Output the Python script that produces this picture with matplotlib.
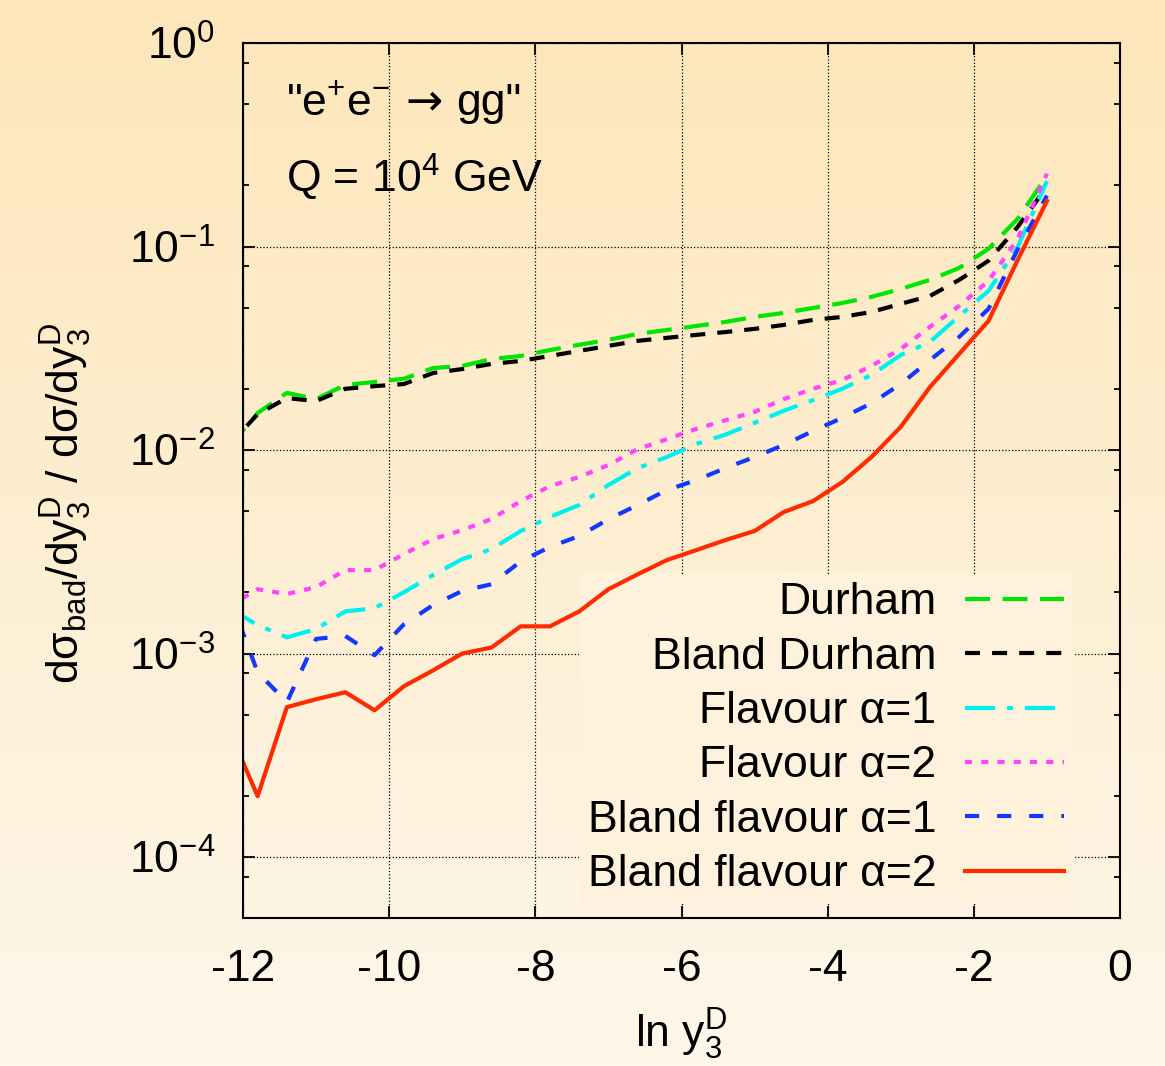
import numpy as np
import matplotlib.pyplot as plt
from matplotlib.ticker import LogLocator, NullFormatter, FixedLocator

plt.rcParams['font.family'] = ['Liberation Sans', 'DejaVu Sans']
plt.rcParams['mathtext.fontset'] = 'custom'
plt.rcParams['mathtext.rm'] = 'Liberation Sans'
plt.rcParams['mathtext.it'] = 'Liberation Sans:italic'
plt.rcParams['mathtext.bf'] = 'Liberation Sans:bold'
plt.rcParams['axes.unicode_minus'] = False

# bin centres in ln y3 (first one lies just outside the axis and gets clipped)
ln_y3 = [-12.2, -11.8, -11.4, -11.0, -10.6, -10.2, -9.8, -9.4, -9.0, -8.6,
         -8.2, -7.8, -7.4, -7.0, -6.6, -6.2, -5.8, -5.4, -5.0, -4.6,
         -4.2, -3.8, -3.4, -3.0, -2.6, -2.2, -1.8, -1.4, -1.0]

durham = [1.03e-2, 1.52e-2, 1.91e-2, 1.78e-2, 2.09e-2, 2.16e-2, 2.24e-2, 2.53e-2, 2.59e-2, 2.80e-2,
          2.90e-2, 3.10e-2, 3.29e-2, 3.48e-2, 3.72e-2, 3.89e-2, 4.07e-2, 4.26e-2, 4.51e-2, 4.72e-2,
          4.99e-2, 5.28e-2, 5.66e-2, 6.19e-2, 6.86e-2, 7.85e-2, 9.75e-2, 0.137, 0.222]

bland_durham = [1.05e-2, 1.50e-2, 1.80e-2, 1.74e-2, 2.00e-2, 2.06e-2, 2.11e-2, 2.39e-2, 2.50e-2, 2.65e-2,
                2.74e-2, 2.90e-2, 3.07e-2, 3.25e-2, 3.44e-2, 3.56e-2, 3.68e-2, 3.80e-2, 3.94e-2, 4.12e-2,
                4.36e-2, 4.51e-2, 4.77e-2, 5.23e-2, 5.72e-2, 6.86e-2, 8.51e-2, 0.125, 0.197]

flav_a1 = [1.67e-3, 1.38e-3, 1.20e-3, 1.32e-3, 1.61e-3, 1.67e-3, 2.00e-3, 2.43e-3, 2.91e-3, 3.26e-3,
           4.00e-3, 4.69e-3, 5.37e-3, 6.73e-3, 8.15e-3, 9.24e-3, 1.07e-2, 1.19e-2, 1.36e-2, 1.56e-2,
           1.76e-2, 2.00e-2, 2.34e-2, 2.93e-2, 3.40e-2, 4.56e-2, 6.05e-2, 9.95e-2, 0.210]

flav_a2 = [1.70e-3, 2.07e-3, 1.96e-3, 2.12e-3, 2.57e-3, 2.57e-3, 3.08e-3, 3.65e-3, 4.04e-3, 4.58e-3,
           5.61e-3, 6.65e-3, 7.37e-3, 8.44e-3, 1.01e-2, 1.13e-2, 1.27e-2, 1.40e-2, 1.54e-2, 1.78e-2,
           2.00e-2, 2.21e-2, 2.59e-2, 3.14e-2, 4.03e-2, 5.11e-2, 6.78e-2, 0.109, 0.228]

bland_flav_a1 = [1.96e-3, 8.09e-4, 5.76e-4, 1.18e-3, 1.22e-3, 9.81e-4, 1.39e-3, 1.73e-3, 2.03e-3, 2.19e-3,
                 2.84e-3, 3.34e-3, 3.78e-3, 4.57e-3, 5.37e-3, 6.36e-3, 7.11e-3, 8.15e-3, 9.24e-3, 1.06e-2,
                 1.24e-2, 1.44e-2, 1.70e-2, 2.11e-2, 2.77e-2, 3.60e-2, 4.94e-2, 9.70e-2, 0.178]

bland_flav_a2 = [4.29e-4, 1.99e-4, 5.45e-4, 5.96e-4, 6.45e-4, 5.26e-4, 6.90e-4, 8.26e-4, 1.00e-3, 1.07e-3,
                 1.36e-3, 1.36e-3, 1.61e-3, 2.07e-3, 2.45e-3, 2.88e-3, 3.22e-3, 3.61e-3, 4.00e-3, 4.96e-3,
                 5.61e-3, 6.96e-3, 9.24e-3, 1.30e-2, 2.04e-2, 2.97e-2, 4.31e-2, 8.60e-2, 0.1675]

x_ticks = [-12, -10, -8, -6, -4, -2, 0]

fs = 32

fig = plt.figure(figsize=(11.65, 10.66), dpi=100)

# peach background gradient behind everything
bg = fig.add_axes([0, 0, 1, 1], zorder=-10)
top = np.array([253, 230, 186]) / 255
bot = np.array([254, 247, 234]) / 255
t = np.linspace(0, 1, 256)[:, None, None]
bg.imshow(top + (bot - top) * t, aspect='auto', extent=[0, 1, 0, 1], origin='upper')
bg.axis('off')

ax = fig.add_axes([0.2086, 0.1388, 0.7528, 0.8208])
ax.set_facecolor('none')
ax.set_axisbelow(True)

lw = 3
ax.plot(ln_y3, durham, color='#00e600', lw=lw, dashes=(6, 3), label='Durham')
ax.plot(ln_y3, bland_durham, color='black', lw=lw, dashes=(3.6, 2.9), label='Bland Durham')
ax.plot(ln_y3, flav_a1, color='#00f0f0', lw=lw, dashes=(7.2, 2.9, 1.4, 2.9), label='Flavour α=1')
ax.plot(ln_y3, flav_a2, color='#ff44ff', lw=lw, dashes=(1.7, 2.2), label='Flavour α=2')
ax.plot(ln_y3, bland_flav_a1, color='#1038ff', lw=lw, dashes=(3.4, 4.3), label='Bland flavour α=1')
ax.plot(ln_y3, bland_flav_a2, color='#ff2a00', lw=lw, label='Bland flavour α=2')

ax.set_yscale('log')
ax.set_xlim(-12, 0)
ax.set_ylim(10 ** -4.3, 1)
ax.xaxis.set_major_locator(FixedLocator(x_ticks))
ax.yaxis.set_major_locator(LogLocator(base=10, numticks=10))
ax.yaxis.set_minor_locator(LogLocator(base=10, subs=(2, 5, 8), numticks=10))
ax.yaxis.set_minor_formatter(NullFormatter())

ax.tick_params(which='both', direction='in', top=True, right=True, width=1.3, labelsize=fs)
ax.tick_params(which='major', length=8.5)
ax.tick_params(which='minor', length=4.5)
ax.tick_params(axis='x', pad=22)
ax.tick_params(axis='y', pad=20)
for s in ax.spines.values():
    s.set_linewidth(1.5)
    s.set_zorder(3)

ax.grid(True, which='major', linestyle=':', color='black', linewidth=0.9)

ax.set_xlabel('ln y$_3^{\\mathrm{D}}$', fontsize=fs)
ax.xaxis.set_label_coords(0.5, -0.102)
ax.set_ylabel('dσ$_{\\mathrm{bad}}$/dy$_3^{\\mathrm{D}}$ / dσ/dy$_3^{\\mathrm{D}}$', fontsize=fs)
ax.yaxis.set_label_coords(-0.17, 0.474)

# process label in pieces so the arrow can come from DejaVu (longer glyph)
t1 = ax.text(0.049, 0.918, '"e$^{+}$e$^{-}$', transform=ax.transAxes, fontsize=fs, va='baseline')
t2 = ax.annotate('→', xy=(1, 0), xycoords=t1, xytext=(11, 0), textcoords='offset points',
                 va='bottom', ha='left', fontsize=fs, family='DejaVu Sans')
ax.annotate('gg"', xy=(1, 0), xycoords=t2, xytext=(10, 0), textcoords='offset points',
            va='bottom', ha='left', fontsize=fs)
ax.text(0.049, 0.829, 'Q = 10$^{4}$ GeV', transform=ax.transAxes, fontsize=fs, va='baseline')

# legend sits above the grid but below the curves
leg = ax.legend(loc='lower right', bbox_to_anchor=(0.9464, 0.016), borderaxespad=0,
                markerfirst=False, fontsize=fs, handlelength=2.23, handletextpad=0.65,
                labelspacing=0.3, borderpad=0.2, frameon=True, fancybox=False)
leg.get_frame().set_facecolor('#fef2dc')
leg.get_frame().set_edgecolor('none')
leg.get_frame().set_alpha(1)
leg.set_zorder(1)

fig.savefig('out.png', dpi=100)
